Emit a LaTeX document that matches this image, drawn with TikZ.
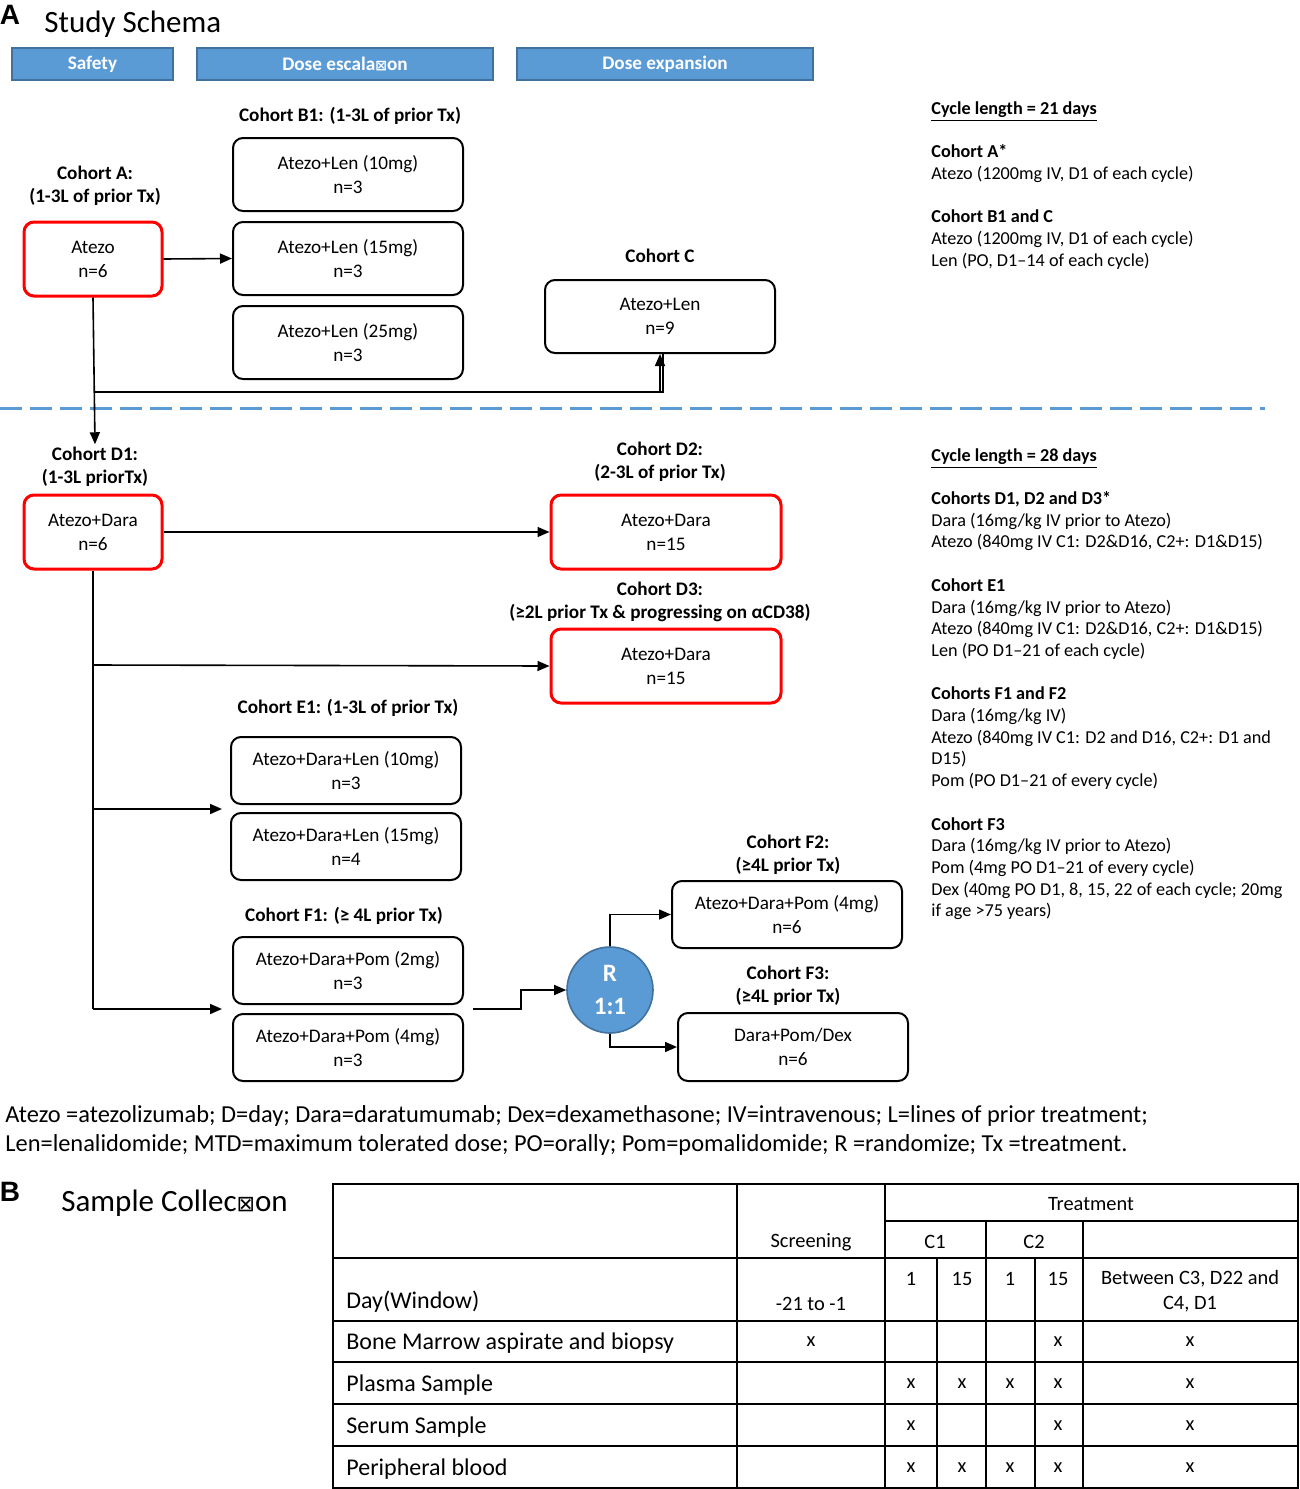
\documentclass[tikz,border=0pt]{standalone}
\usepackage{fontspec}
\setmainfont{Carlito}
\newfontfamily\djv{DejaVu Sans}
\newfontfamily\arialf{Liberation Sans}
\usetikzlibrary{arrows.meta}
\definecolor{hdr}{HTML}{5B9BD5}
\definecolor{hdrb}{HTML}{41719C}
\newcommand\dfs{\fontsize{9.6}{12}\selectfont}
\newcommand\lfs{\fontsize{9.6}{11.6}\selectfont}
\newcommand\boxglyph{{\djv\fontsize{7}{7}\selectfont ⊠}}
\begin{document}
\begin{tikzpicture}[x=0.5pt,y=-0.5pt,
  bx/.style={draw=black, line width=1pt, rounded corners=5pt, align=center, font=\dfs, inner sep=0pt, minimum width=115pt},
  rbx/.style={bx, draw=red, line width=1.5pt},
  lab/.style={align=center, font=\lfs\bfseries, inner sep=1pt},
  hbar/.style={draw=hdrb, fill=hdr, line width=0.8pt, text=white, font=\dfs\bfseries, minimum height=16pt, inner sep=0pt},
  arr/.style={-{Triangle[length=6pt,width=5pt]}, line width=0.8pt},
  ln/.style={line width=0.8pt},
  tl/.style={line width=1pt},
  rtxt/.style={anchor=north west, align=left, font=\fontsize{9.1}{10.85}\selectfont, inner sep=0pt},
  cell/.style={font=\fontsize{10.2}{12.5}\selectfont, align=center, inner sep=0pt},
  rowl/.style={font=\fontsize{12}{14}\selectfont, anchor=west, inner sep=0pt}]
\useasboundingbox (0,0) rectangle (1300,1489);

% ---------- Panel A title ----------
\node[font=\arialf\bfseries\fontsize{14}{16}\selectfont, inner sep=0pt] (pA) at (10,15) {A};
\node[font=\fontsize{15.5}{18}\selectfont, anchor=base west, inner sep=0pt] (tA) at (44,32) {Study Schema};

% header bars
\node[hbar, minimum width=80.5pt] (h1) at (92.5,64) {\raisebox{-0.6pt}{Safety}};
\node[hbar, minimum width=148pt] (h2) at (345,64) {\raisebox{-0.6pt}{Dose escala\boxglyph on}};
\node[hbar, minimum width=148pt] (h3) at (665,64) {\raisebox{-0.6pt}{Dose expansion}};

% ---------- upper part ----------
\node[lab] (labA) at (95,185.5) {Cohort A:\\(1-3L of prior Tx)};
\node[rbx, minimum width=69pt, minimum height=37pt] (A) at (93,259) {Atezo\\n=6};

\node[lab] (labB) at (350,116) {Cohort B1: (1-3L of prior Tx)};
\node[bx, minimum height=36.5pt] (B1) at (348,174.5) {Atezo+Len (10mg)\\n=3};
\node[bx, minimum height=36.5pt] (B2) at (348,258.5) {Atezo+Len (15mg)\\n=3};
\node[bx, minimum height=36.5pt] (B3) at (348,342.5) {Atezo+Len (25mg)\\n=3};

\node[lab] (labC) at (660,256) {Cohort C};
\node[bx, minimum height=36.5pt] (C) at (660,316.5) {Atezo+Len\\n=9};

\draw[arr] (A.east) -- (B2.west);

% dashed separator
\draw[hdr, line width=1.5pt, dash pattern=on 11pt off 4pt] (0,408) -- (1265,408);

\node[lab] (labD1) at (95,466.5) {Cohort D1:\\(1-3L priorTx)};
\draw[arr] (A.south) -- (labD1.north);
\coordinate (j1) at (94.7,392);
\draw[arr] (j1) -| (C.south);
\draw[ln] (j1) -| ([xshift=1.6pt]C.south);

% ---------- lower part ----------
\node[rbx, minimum width=69pt, minimum height=37pt] (D1) at (93,532) {Atezo+Dara\\n=6};

\node[lab] (labD2) at (660,461.5) {Cohort D2:\\(2-3L of prior Tx)};
\node[rbx, minimum height=37pt] (D2) at (666,532) {Atezo+Dara\\n=15};

\node[lab] (labD3) at (660,601.5) {Cohort D3:\\(≥2L prior Tx \& progressing on αCD38)};
\node[rbx, minimum height=37pt] (D3) at (666,666) {Atezo+Dara\\n=15};

\node[lab] (labE1) at (348,708) {Cohort E1: (1-3L of prior Tx)};
\node[bx, minimum height=33.5pt] (E1a) at (346,770.5) {Atezo+Dara+Len (10mg)\\n=3};
\node[bx, minimum height=33.5pt] (E1b) at (346,846.5) {Atezo+Dara+Len (15mg)\\n=4};

\node[lab] (labF1) at (344,916) {Cohort F1: (≥ 4L prior Tx)};
\node[bx, minimum height=33.5pt] (F1a) at (348,970.5) {Atezo+Dara+Pom (2mg)\\n=3};
\node[bx, minimum height=33.5pt] (F1b) at (348,1047.5) {Atezo+Dara+Pom (4mg)\\n=3};

\node[circle, draw=hdrb, fill=hdr, line width=0.8pt, minimum size=43pt, inner sep=0pt, text=white, align=center, font=\fontsize{12.5}{16.5}\selectfont\bfseries] (R) at (610,990) {R\\1:1};

\node[lab] (labF2) at (788,855) {Cohort F2:\\(≥4L prior Tx)};
\node[bx, minimum height=33.5pt] (F2) at (787,914.5) {Atezo+Dara+Pom (4mg)\\n=6};
\node[lab] (labF3) at (788,985.5) {Cohort F3:\\(≥4L prior Tx)};
\node[bx, minimum height=34pt] (F3) at (793,1047) {Dara+Pom/Dex\\n=6};

\coordinate (k1) at (93,665);
\coordinate (k2) at (93,809);
\coordinate (k3) at (93,1009);
\coordinate (e1in) at (222,809);
\coordinate (f1in) at (222,1009);
\coordinate (f1out) at (473,1009);
\draw[arr] (D1.east) -- (D2.west);
\draw[ln] (D1.south) -- (k3);
\draw[arr] (k1) -- (D3.west);
\draw[arr] (k2) -- (e1in);
\draw[arr] (k3) -- (f1in);
\draw[arr] (f1out) -- ++(48,0) |- (R.west);
\draw[arr] (R.north) |- (F2.west);
\draw[arr] (R.south) |- (F3.west);

% ---------- right text ----------
\node[rtxt] (txt1) at (931,101) {%
\textbf{\underline{Cycle length = 21 days}}\\[10.85pt]
\textbf{Cohort A*}\\
Atezo (1200mg IV, D1 of each cycle)\\[10.85pt]
\textbf{Cohort B1 and C}\\
Atezo (1200mg IV, D1 of each cycle)\\
Len (PO, D1–14 of each cycle)};

\node[rtxt] (txt2) at (931,448) {%
\textbf{\underline{Cycle length = 28 days}}\\[10.85pt]
\textbf{Cohorts D1, D2 and D3*}\\
Dara (16mg/kg IV prior to Atezo)\\
Atezo (840mg IV C1: D2\&D16, C2+: D1\&D15)\\[10.85pt]
\textbf{Cohort E1}\\
Dara (16mg/kg IV prior to Atezo)\\
Atezo (840mg IV C1: D2\&D16, C2+: D1\&D15)\\
Len (PO D1–21 of each cycle)\\[10.85pt]
\textbf{Cohorts F1 and F2}\\
Dara (16mg/kg IV)\\
Atezo (840mg IV C1: D2 and D16, C2+: D1 and\\
D15)\\
Pom (PO D1–21 of every cycle)\\[10.85pt]
\textbf{Cohort F3}\\
Dara (16mg/kg IV prior to Atezo)\\
Pom (4mg PO D1–21 of every cycle)\\
Dex (40mg PO D1, 8, 15, 22 of each cycle; 20mg\\
if age >75 years)};

% footnote
\node[anchor=north west, align=left, font=\fontsize{12.2}{14.5}\selectfont, inner sep=0pt] (foot) at (5,1105) {%
Atezo =atezolizumab; D=day; Dara=daratumumab; Dex=dexamethasone; IV=intravenous; L=lines of prior treatment;\\
Len=lenalidomide; MTD=maximum tolerated dose; PO=orally; Pom=pomalidomide; R =randomize; Tx =treatment.};

% ---------- Panel B ----------
\node[font=\arialf\bfseries\fontsize{14}{16}\selectfont, inner sep=0pt] (pB) at (10,1192) {B};
\node[font=\fontsize{15.5}{18}\selectfont, anchor=base west, inner sep=0pt] (tB) at (61,1211) {Sample Collec{\djv\fontsize{11}{11}\selectfont ⊠}on};

\draw[tl] (333,1184) rectangle (1298,1488);
\draw[tl] (885,1221) -- (1298,1221);
\foreach \yy in {1258,1321,1362,1404,1446} \draw[tl] (333,\yy) -- (1298,\yy);
\foreach \xx in {737,885} \draw[tl] (\xx,1184) -- (\xx,1488);
\foreach \xx in {986,1083} \draw[tl] (\xx,1221) -- (\xx,1488);
\foreach \xx in {937,1035} \draw[tl] (\xx,1258) -- (\xx,1488);

\node[cell] (tTreat) at (1091,1204) {Treatment};
\node[cell] (tScr) at (811,1242) {Screening};
\node[cell] (tC1) at (935,1242) {C1};
\node[cell] (tC2) at (1034,1242) {C2};
\node[cell] (d1) at (911,1279) {1};
\node[cell] (d2) at (962,1279) {15};
\node[cell] (d3) at (1010,1279) {1};
\node[cell] (d4) at (1058,1279) {15};
\node[cell] (d5) at (1190,1291) {Between C3, D22 and\\C4, D1};
\node[cell] (dS) at (811,1304) {-21 to -1};
\node[rowl] (r0) at (346,1302) {Day(Window)};
\node[rowl] (r1) at (346,1343) {Bone Marrow aspirate and biopsy};
\node[rowl] (r2) at (346,1385) {Plasma Sample};
\node[rowl] (r3) at (346,1427) {Serum Sample};
\node[rowl] (r4) at (346,1469) {Peripheral blood};

% x marks
\foreach \xx/\yy in {811/1342, 1058/1342, 1190/1342,
  911/1384, 962/1384, 1010/1384, 1058/1384, 1190/1384,
  911/1426, 1058/1426, 1190/1426,
  911/1468, 962/1468, 1010/1468, 1058/1468, 1190/1468}
  \node[cell] at (\xx,\yy) {x};
\end{tikzpicture}
\end{document}
